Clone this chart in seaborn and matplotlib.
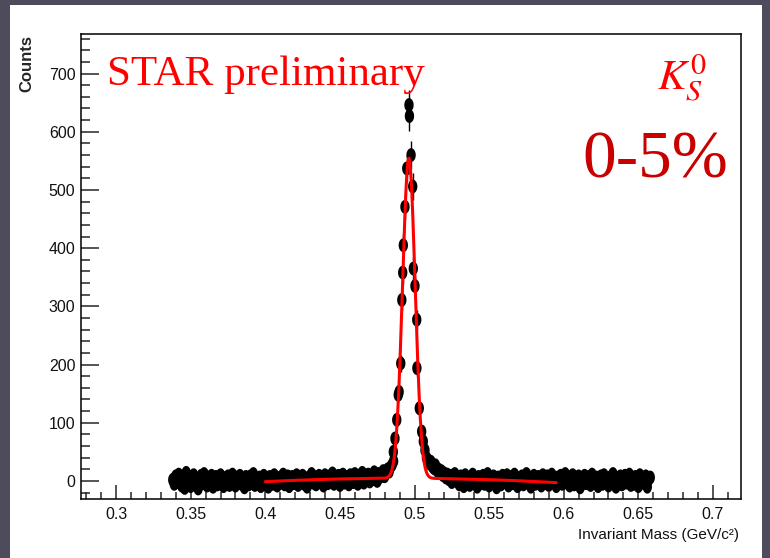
import numpy as np
import pandas as pd
import matplotlib
matplotlib.use("Agg")
import matplotlib.pyplot as plt
from matplotlib.patches import Rectangle
from matplotlib.path import Path
from matplotlib.ticker import MultipleLocator, FuncFormatter
import seaborn as sns

# ---- invariant-mass spectrum, K0s -> pi+ pi-, 0-5% centrality ----
bin_step = 0.001  # GeV/c^2

# low-mass side band, first bin centre 0.338
left_start = 0.338
left_counts = [2, -5, 8, -2, 11, 4, -8, 6, -12, 14,
               -3, 7, -9, 1, 10, -6, 3, -13, 5, 9,
               -4, 12, 0, -8, 6, -2, 9, -10, 3, 7,
               -6, 2, 10, -4, -9, 5, 1, 8, -7, 4,
               11, -3, -8, 6, 0, 9, -5, 2, -11, 7,
               3, -6, 8, -1, 12, -7, 4, -3, 6, -9,
               1, 9, -4, 5, -10, 7, 2, -5, 10, -2,
               -8, 4, 6, -3, 11, -6, 0, 8, -9, 3,
               7, -4, 2, 10, -7, 5, -1, 9, -5, 3,
               -10, 6, 1, 12, -3, 7, -6, 4, 9, -2,
               5, -8, 10, 2, -4, 8, -1, 13, -5, 6,
               0, 9, -7, 4, 11, -3, 7, 2, -6, 10,
               4, -2, 12, 6, -5, 9, 1, 14, -3, 8,
               5, 11, -1, 9, 3, 15, 6, 0, 12, 7,
               10, 17, 8, 14, 20, 16, 24, 28, 34]

# high-mass side band, first bin centre 0.507
right_start = 0.507
right_counts = [53, 40, 36, 30, 33, 25, 22, 27, 18, 20,
                14, 17, 10, 13, 6, 11, 3, 9, -2, 7,
                12, 0, 5, -6, 8, 2, -9, 10, -3, 4,
                -7, 6, 11, -1, 3, -10, 7, 1, -4, 9,
                -5, 2, 12, -8, 5, 0, 8, -3, -11, 6,
                3, -6, 9, 1, -2, 10, -8, 4, 7, -4,
                11, -1, -9, 5, 2, 8, -6, 0, 12, -3,
                6, -10, 3, 9, -5, 1, 7, -2, -8, 10,
                4, -4, 8, -7, 2, 11, -1, 5, -9, 6,
                0, 9, -5, 3, 12, -3, 7, -8, 1, 10,
                -6, 4, -2, 8, -11, 5, 2, 9, -4, 0,
                7, -7, 11, 3, -3, 6, -9, 1, 8, -5,
                10, -2, 4, -8, 6, 2, 12, -4, -10, 5,
                1, 8, -6, 3, 9, -3, 0, 11, -7, 4,
                -5, 7, 2, -9, 10, -1, 5, -4, 8, -10,
                3, 6]

# peak region
peak_mass = [0.4858, 0.4869, 0.4881, 0.4891, 0.4897, 0.4908, 0.4915, 0.4921,
             0.4925, 0.4936, 0.4948, 0.4963, 0.4966, 0.4977, 0.4988, 0.4992,
             0.5003, 0.5015, 0.5016, 0.5032, 0.5048, 0.5059]
peak_counts = [50, 73, 105, 148, 153, 202, 311, 358, 405, 471, 537, 646, 627,
               560, 506, 365, 335, 277, 194, 125, 85, 68]

# Gaussian signal + 2nd-order polynomial background fit
fit_amp = 550.0
fit_mean = 0.4962
fit_sigma = 0.0042
fit_bkg = [4.6, -12.2, -706.0]   # in powers of (m - 0.5)
fit_lo, fit_hi = 0.400, 0.595

# ---- assemble points ----
left_mass = left_start + bin_step * np.arange(len(left_counts))
right_mass = right_start + bin_step * np.arange(len(right_counts))
mass = np.concatenate([left_mass, peak_mass, right_mass])
counts = np.concatenate([left_counts, peak_counts, right_counts]).astype(float)
df = pd.DataFrame({"mass": mass, "counts": counts,
                   "err": np.sqrt(np.abs(counts))})

m_fit = np.linspace(fit_lo, fit_hi, 1200)
d = m_fit - 0.5
y_fit = (fit_amp * np.exp(-0.5 * ((m_fit - fit_mean) / fit_sigma) ** 2)
         + fit_bkg[0] + fit_bkg[1] * d + fit_bkg[2] * d ** 2)
fit_df = pd.DataFrame({"mass": m_fit, "fit": y_fit})

# ---- style ----
sns.set_style("ticks")
plt.rcParams["font.family"] = ["Liberation Sans", "DejaVu Sans"]
plt.rcParams["axes.linewidth"] = 1.1

W, H = 770, 558
fig = plt.figure(figsize=(W / 100, H / 100), dpi=100)
fig.patch.set_facecolor("#4e4b5d")
fig.add_artist(Rectangle((10 / W, 0), (762 - 10) / W, (H - 5) / H,
                         transform=fig.transFigure, facecolor="white",
                         edgecolor="none", zorder=-10))

ax = fig.add_axes([81 / W, (H - 499) / H, 660 / W, 465 / H])
ax.set_facecolor("white")

# filled elliptical marker
t = np.linspace(0, 2 * np.pi, 40)
ellipse = Path(np.column_stack([0.68 * np.cos(t), np.sin(t)]), closed=True)

ax.errorbar(df["mass"], df["counts"], yerr=df["err"], fmt="none",
            ecolor="black", elinewidth=1.0, capsize=0, zorder=2)
sns.scatterplot(data=df, x="mass", y="counts", ax=ax, marker=ellipse, s=98,
                color="black", linewidth=0, edgecolor="none", zorder=3,
                legend=False)
sns.lineplot(data=fit_df, x="mass", y="fit", ax=ax, color="red", lw=2.2,
             zorder=4, legend=False)

ax.set_xlim(0.2765, 0.7188)
ax.set_ylim(-31, 768)
ax.set_xlabel("")
ax.set_ylabel("")

ax.xaxis.set_major_locator(MultipleLocator(0.05))
ax.xaxis.set_minor_locator(MultipleLocator(0.01))
ax.yaxis.set_major_locator(MultipleLocator(100))
ax.yaxis.set_minor_locator(MultipleLocator(20))
ax.xaxis.set_major_formatter(FuncFormatter(lambda v, p: f"{v:g}"))
ax.yaxis.set_major_formatter(FuncFormatter(lambda v, p: f"{v:g}"))

ax.tick_params(axis="x", which="major", direction="in", length=10, width=1.1,
               labelsize=11.5, pad=6, top=False, labelcolor="#111111")
ax.tick_params(axis="x", which="minor", direction="in", length=5, width=1.1, top=False)
ax.tick_params(axis="y", which="major", direction="in", length=13, width=1.1,
               labelsize=11.5, pad=4, right=False, labelcolor="#111111")
ax.tick_params(axis="y", which="minor", direction="in", length=6.5, width=1.1, right=False)
for sp in ax.spines.values():
    sp.set_visible(True)
    sp.set_color("black")

# axis titles
fig.text(27 / W, 1 - 35 / H, "Counts", rotation=90, ha="center", va="top",
         fontsize=12, fontweight="bold")
fig.text(739 / W, 1 - 535 / H, "Invariant Mass (GeV/c²)", ha="right", va="center",
         fontsize=11, color="#111111")

# annotations
fig.text(107 / W, 1 - 85 / H, "STAR preliminary", ha="left", va="baseline",
         fontsize=31, color="red", family=["Liberation Serif", "DejaVu Serif"])
fig.text(657 / W, 1 - 90 / H, r"$K_S^0$", ha="left", va="baseline",
         fontsize=31, color="red", math_fontfamily="stix")
fig.text(582 / W, 1 - 178 / H, "0-5%", ha="left", va="baseline",
         fontsize=48.5, color="#c80000", family=["Liberation Serif", "DejaVu Serif"])

fig.savefig("out.png", dpi=100, facecolor=fig.get_facecolor())
